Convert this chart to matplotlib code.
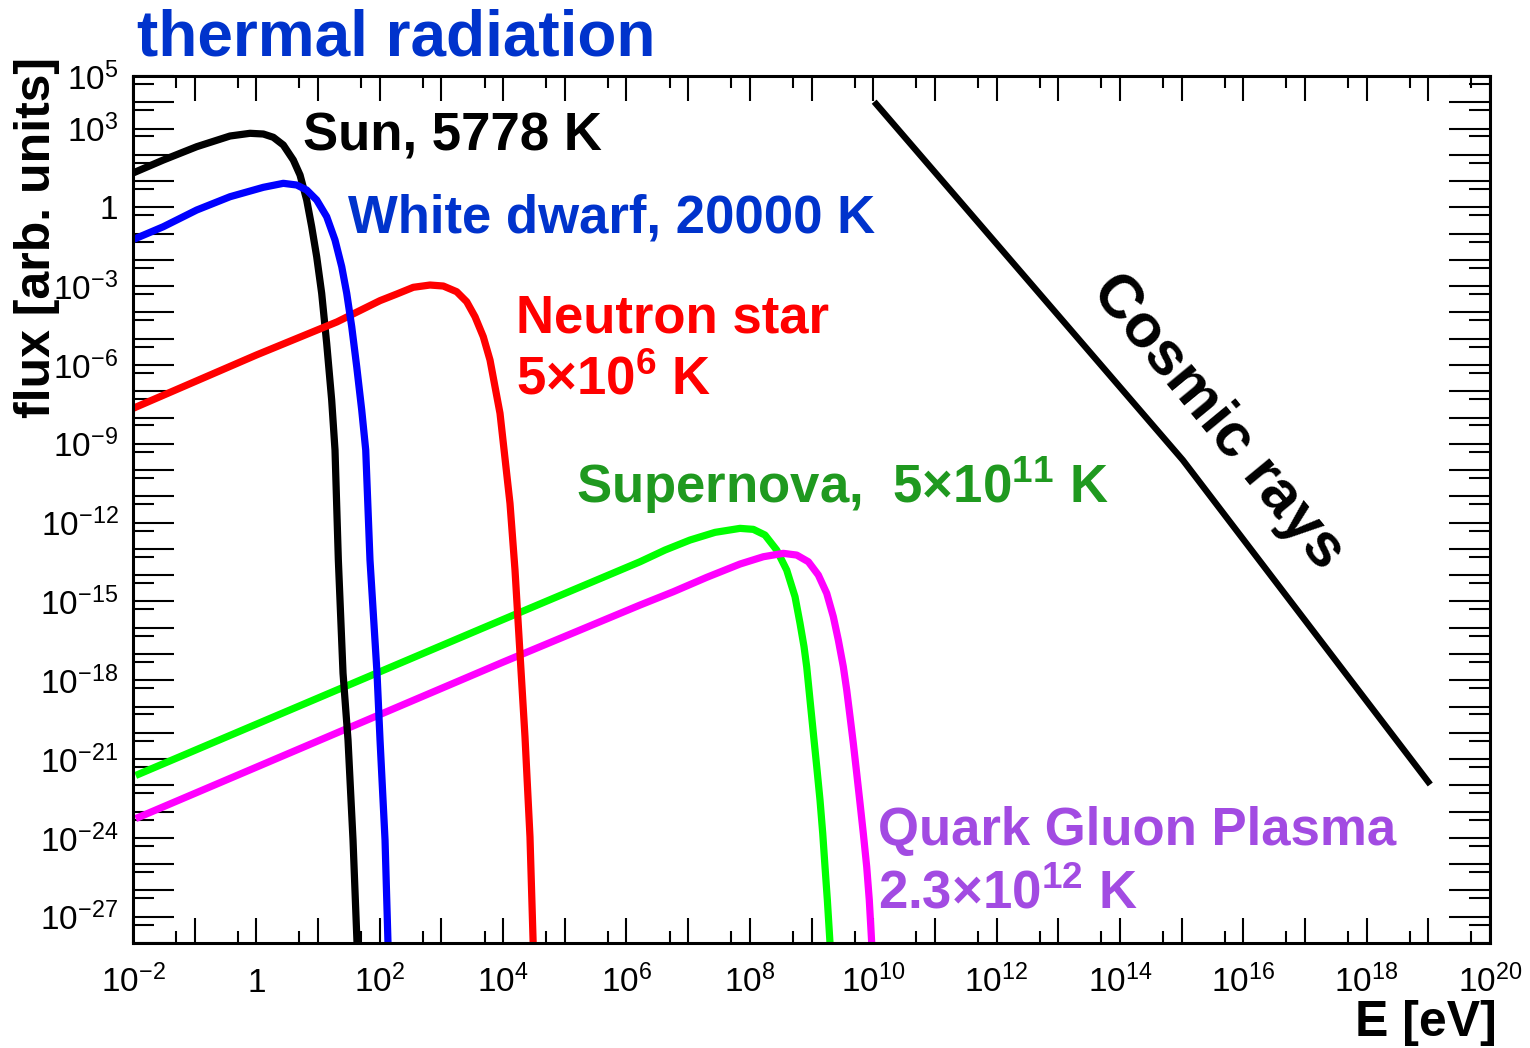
import numpy as np
import matplotlib
matplotlib.use("Agg")
import matplotlib.pyplot as plt
from matplotlib.ticker import FixedLocator, FuncFormatter

plt.rcParams["font.family"] = ["Liberation Sans", "DejaVu Sans"]
plt.rcParams["mathtext.fontset"] = "custom"
plt.rcParams["mathtext.rm"] = "Liberation Sans"
plt.rcParams["mathtext.it"] = "Liberation Sans:italic"
plt.rcParams["mathtext.bf"] = "Liberation Sans:bold"

# photon spectra, log10(E/eV) vs log10(flux)
sun_logE = [-1.951, -1.509, -0.967, -0.427, -0.103, 0.113, 0.275, 0.437, 0.599, 0.708,
            0.816, 0.897, 0.978, 1.059, 1.140, 1.221, 1.275, 1.329, 1.405, 1.486,
            1.567, 1.632, 1.650]
sun_logF = [1.357, 1.802, 2.309, 2.716, 2.819, 2.792, 2.667, 2.373, 1.802, 1.231,
            0.280, -0.737, -1.879, -3.272, -5.175, -7.333, -9.237, -13.42, -17.73, -20.28,
            -24.08, -28.0, -28.6]

wd_logE = [-1.951, -1.509, -0.967, -0.427, 0.113, 0.437, 0.654, 0.816, 0.978, 1.140,
           1.275, 1.384, 1.465, 1.546, 1.627, 1.708, 1.773, 1.842, 1.956, 2.005,
           2.086, 2.134, 2.140]
wd_logF = [-1.178, -0.737, -0.101, 0.405, 0.763, 0.915, 0.851, 0.660, 0.280, -0.356,
           -1.243, -2.259, -3.272, -4.543, -6.066, -7.714, -9.237, -13.42, -17.73, -20.28,
           -24.08, -28.0, -28.6]

ns_logE = [-1.950, 0.000, 1.307, 2.005, 2.275, 2.544, 2.815, 3.031, 3.248, 3.410,
           3.545, 3.679, 3.788, 3.869, 3.950, 4.004, 4.112, 4.193, 4.274, 4.355,
           4.436, 4.495]
ns_logF = [-7.60, -5.62, -4.36, -3.55, -3.30, -3.043, -2.956, -2.994, -3.211, -3.592,
           -4.163, -4.924, -5.811, -6.827, -7.840, -8.982, -11.27, -13.80, -16.98, -20.15,
           -23.96, -28.6]

sn_logE = [-1.903, 3.674, 6.220, 6.625, 7.030, 7.436, 7.841, 8.057, 8.246, 8.436,
           8.598, 8.733, 8.814, 8.879, 8.922, 8.976, 9.030, 9.085, 9.138, 9.182,
           9.219, 9.257, 9.300, 9.310]
sn_logF = [-21.57, -16.01, -13.489, -13.044, -12.663, -12.370, -12.218, -12.256, -12.472, -13.044,
           -13.805, -14.821, -15.834, -16.724, -17.486, -18.753, -20.021, -21.293, -22.560, -23.828,
           -25.10, -26.367, -28.0, -28.6]

qgp_logE = [-1.903, 3.999, 6.220, 6.760, 7.301, 7.841, 8.219, 8.543, 8.760, 8.949,
            9.111, 9.247, 9.354, 9.435, 9.516, 9.571, 9.625, 9.678, 9.733, 9.787,
            9.840, 9.895, 9.937, 9.976, 9.990]
qgp_logF = [-23.21, -17.31, -15.137, -14.630, -14.083, -13.576, -13.298, -13.169, -13.234, -13.489,
            -13.995, -14.692, -15.582, -16.470, -17.486, -18.373, -19.389, -20.402, -21.544, -22.686,
            -23.828, -25.099, -26.367, -28.0, -28.6]

# broken power law with the knee
cr_logE = [10.05, 15.02, 19.00]
cr_logF = [3.93, -9.62, -21.87]

W, H = 1530, 1048
fig = plt.figure(figsize=(W / 100, H / 100), dpi=100)
ax = fig.add_axes([133 / W, 1 - 943 / H, (1490 - 133) / W, (943 - 76) / H])

lw = 5.2
curves = [
    (sn_logE, sn_logF, "#00ff00"),
    (qgp_logE, qgp_logF, "#ff00ff"),
    (sun_logE, sun_logF, "black"),
    (ns_logE, ns_logF, "#ff0000"),
    (wd_logE, wd_logF, "#0000ff"),
]
for le, lf, c in curves:
    ax.plot(10 ** np.array(le), 10 ** np.array(lf), color=c, lw=lw,
            solid_joinstyle="round")
ax.plot(10 ** np.array(cr_logE), 10 ** np.array(cr_logF), color="black", lw=4.6)

ax.set_xscale("log")
ax.set_yscale("log")
ax.set_xlim(1e-2, 1e20)
ax.set_ylim(1e-28, 1e5)

x_major = [10.0 ** k for k in range(-2, 21)]
x_minor = [5 * 10.0 ** k for k in range(-2, 20)]
y_major = [10.0 ** k for k in range(-28, 6)]
y_minor = [5 * 10.0 ** k for k in range(-28, 5)]
x_labelled = set(range(-2, 21, 2))
y_labelled = {5, 3} | set(range(0, -28, -3))


def pow_label(labelled):
    def fmt(v, pos):
        k = int(round(np.log10(v)))
        if k not in labelled:
            return ""
        if k == 0:
            return "1"
        return r"$10^{%d}$" % k
    return fmt


ax.xaxis.set_major_locator(FixedLocator(x_major))
ax.xaxis.set_minor_locator(FixedLocator(x_minor))
ax.yaxis.set_major_locator(FixedLocator(y_major))
ax.yaxis.set_minor_locator(FixedLocator(y_minor))
ax.xaxis.set_major_formatter(FuncFormatter(pow_label(x_labelled)))
ax.yaxis.set_major_formatter(FuncFormatter(pow_label(y_labelled)))
ax.xaxis.set_minor_formatter(FuncFormatter(lambda v, p: ""))
ax.yaxis.set_minor_formatter(FuncFormatter(lambda v, p: ""))

ax.tick_params(axis="both", which="both", direction="in", top=True, right=True,
               width=1.5, colors="black", labelsize=24)
ax.tick_params(axis="x", which="major", length=18, pad=35)
ax.tick_params(axis="x", which="minor", length=8.6)
ax.tick_params(axis="y", which="major", length=29.5, pad=10.5)
ax.tick_params(axis="y", which="minor", length=14.8)
for tick in ax.xaxis.get_major_ticks():
    tick.label1.set_verticalalignment("baseline")
for s in ax.spines.values():
    s.set_linewidth(2.2)

# curve labels
bold = dict(fontsize=38, fontweight="bold", va="baseline", ha="left")
ax.text(10 ** 0.756, 10 ** 2.18, "Sun, 5778 K", color="black", **bold)
ax.text(10 ** 1.486, 10 ** -0.94, "White dwarf, 20000 K", color="#0033cc", **bold)
ax.text(10 ** 4.21, 10 ** -4.745, "Neutron star", color="#ff0000", **bold)
ax.text(10 ** 4.21, 10 ** -7.14, r"5×10$^{\mathbf{6}}$ K", color="#ff0000", **bold)
ax.text(10 ** 5.18, 10 ** -11.25, r"Supernova,  5×10$^{\mathbf{11}}$ K", color="#1f991f", **bold)
ax.text(10 ** 10.08, 10 ** -24.27, "Quark Gluon Plasma", color="#a24be2", **bold)
ax.text(10 ** 10.08, 10 ** -26.67, r"2.3×10$^{\mathbf{12}}$ K", color="#a24be2", **bold)
ax.text(10 ** 15.59, 10 ** -8.17, "Cosmic rays", color="black", fontsize=44,
        fontweight="bold", rotation=-50.5, ha="center", va="center", rotation_mode="anchor")

fig.text(137 / W, 1 - 55 / H, "thermal radiation", color="#0033cc", fontsize=46,
         fontweight="bold", ha="left", va="baseline")
fig.text(1497 / W, 1 - 1036 / H, "E [eV]", fontsize=36, fontweight="bold",
         ha="right", va="baseline")
fig.text(37 / W, 1 - 57 / H, "flux [arb. units]", fontsize=36, fontweight="bold",
         rotation=90, ha="center", va="top")

fig.savefig("out.png", dpi=100)
